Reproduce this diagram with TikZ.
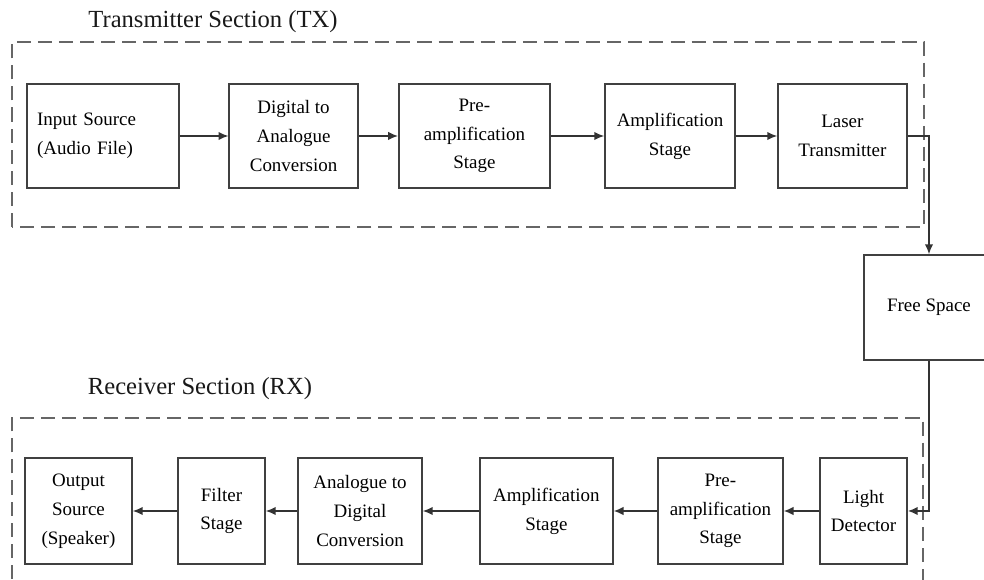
\documentclass[tikz,border=0pt]{standalone}
\usepackage{fontspec}
\setmainfont{Liberation Serif}
\usetikzlibrary{arrows.meta, positioning}

\begin{document}
\begin{tikzpicture}[
    block/.style={draw=black!75, line width=1.1pt, align=center, text=black,
        font=\fontsize{13.5}{20.5}\selectfont, inner sep=2pt},
    section/.style={draw=black!60, line width=1.1pt, dash pattern=on 10pt off 5pt},
    flow/.style={draw=black!80, line width=1.1pt, -{Latex[length=7pt, width=6pt]}},
    heading/.style={text=black!90, font=\fontsize{17.5}{21}\selectfont}
]
    % Fix the page to the reference size
    \useasboundingbox (0,0) rectangle (24.6,14.5);
    \clip (0,0) rectangle (24.6,14.5);

    % Row heights
    \def\ytx{11.1}
    \def\yrx{1.725}

    % Dashed section frames
    \draw[section] (0.3,8.825) rectangle (23.1,13.45);
    \draw[section] (0.3,-0.5) rectangle (23.075,4.05);

    % Section titles
    \node[heading] (txtitle) at (5.325,13.95) {Transmitter Section (TX)};
    \node[heading] (rxtitle) at (5.0,4.775) {Receiver Section (RX)};

    % Transmitter chain
    \node[block, minimum height=2.6cm, text width=3.3cm, align=left, inner xsep=0.25cm] (input) at (2.575,\ytx) {Input Source\\(Audio File)};
    \node[block, minimum height=2.6cm, minimum width=3.22cm] (dac) at (7.34,\ytx) {Digital to\\Analogue\\Conversion};
    \node[block, minimum height=2.6cm, minimum width=3.78cm] (txpre) at (11.86,\ytx) {Pre-\\amplification\\Stage};
    \node[block, minimum height=2.6cm, minimum width=3.25cm] (txamp) at (16.75,\ytx) {Amplification\\Stage};
    \node[block, minimum height=2.6cm, minimum width=3.22cm] (laser) at (21.06,\ytx) {Laser\\Transmitter};

    % Channel between the sections
    \node[block, minimum height=2.625cm, minimum width=3.25cm] (free) at (23.225,6.8125) {Free Space};

    % Receiver chain
    \node[block, minimum height=2.65cm, minimum width=2.175cm] (light) at (21.59,\yrx) {Light\\Detector};
    \node[block, minimum height=2.65cm, minimum width=3.125cm] (rxpre) at (18.01,\yrx) {Pre-\\amplification\\Stage};
    \node[block, minimum height=2.65cm, minimum width=3.325cm] (rxamp) at (13.66,\yrx) {Amplification\\Stage};
    \node[block, minimum height=2.65cm, minimum width=3.1cm] (adc) at (9.0,\yrx) {Analogue to\\Digital\\Conversion};
    \node[block, minimum height=2.65cm, minimum width=2.175cm] (filter) at (5.5375,\yrx) {Filter\\Stage};
    \node[block, minimum height=2.65cm, minimum width=2.675cm] (output) at (1.9625,\yrx) {Output\\Source\\(Speaker)};

    % Transmitter arrows
    \draw[flow] (input) -- (dac);
    \draw[flow] (dac) -- (txpre);
    \draw[flow] (txpre) -- (txamp);
    \draw[flow] (txamp) -- (laser);

    % Through free space
    \draw[flow] (laser.east) -| (free.north);
    \draw[flow] (free.south) |- (light.east);

    % Receiver arrows
    \draw[flow] (light) -- (rxpre);
    \draw[flow] (rxpre) -- (rxamp);
    \draw[flow] (rxamp) -- (adc);
    \draw[flow] (adc) -- (filter);
    \draw[flow] (filter) -- (output);
\end{tikzpicture}
\end{document}
